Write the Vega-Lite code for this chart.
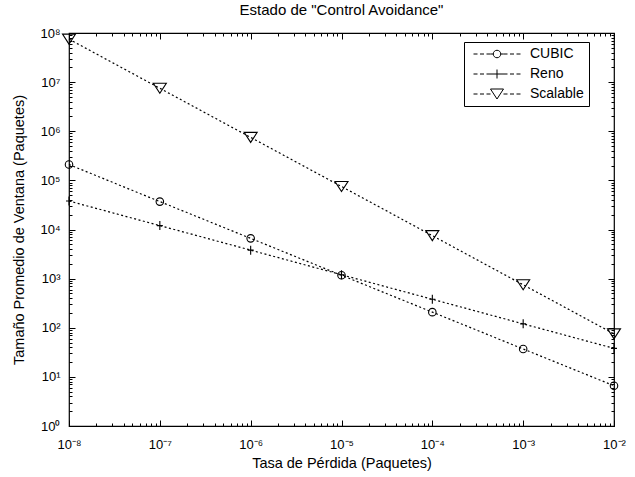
{
  "$schema": "https://vega.github.io/schema/vega-lite/v6.json",
  "width": 545,
  "height": 393,
  "autosize": "none",
  "padding": {"left": 69, "top": 33, "right": 21, "bottom": 51},
  "background": "white",
  "title": {
    "text": "Estado de \"Control Avoidance\"",
    "font": "Liberation Sans",
    "fontSize": 15,
    "fontWeight": "normal",
    "color": "black",
    "anchor": "middle",
    "offset": 9
  },
  "config": {
    "view": {"stroke": "black", "strokeWidth": 1.2},
    "axis": {
      "grid": false,
      "domain": false,
      "tickColor": "black",
      "tickWidth": 1,
      "labelColor": "black",
      "labelFont": "Liberation Sans",
      "labelFontSize": 13,
      "labelOverlap": false,
      "labelFlush": false,
      "labelBound": false,
      "titleColor": "black",
      "titleFont": "Liberation Sans",
      "titleFontSize": 14.5,
      "titleFontWeight": "normal"
    }
  },
  "data": {
    "values": [
      {"p": 1e-8, "w": 210000, "serie": "CUBIC"},
      {"p": 1e-7, "w": 37000, "serie": "CUBIC"},
      {"p": 1e-6, "w": 6600, "serie": "CUBIC"},
      {"p": 1e-5, "w": 1170, "serie": "CUBIC"},
      {"p": 1e-4, "w": 208, "serie": "CUBIC"},
      {"p": 1e-3, "w": 37, "serie": "CUBIC"},
      {"p": 1e-2, "w": 6.6, "serie": "CUBIC"},
      {"p": 1e-8, "w": 38000, "serie": "Reno"},
      {"p": 1e-7, "w": 12000, "serie": "Reno"},
      {"p": 1e-6, "w": 3800, "serie": "Reno"},
      {"p": 1e-5, "w": 1200, "serie": "Reno"},
      {"p": 1e-4, "w": 380, "serie": "Reno"},
      {"p": 1e-3, "w": 120, "serie": "Reno"},
      {"p": 1e-2, "w": 38, "serie": "Reno"},
      {"p": 1e-8, "w": 75000000, "serie": "Scalable"},
      {"p": 1e-7, "w": 7500000, "serie": "Scalable"},
      {"p": 1e-6, "w": 750000, "serie": "Scalable"},
      {"p": 1e-5, "w": 75000, "serie": "Scalable"},
      {"p": 1e-4, "w": 7500, "serie": "Scalable"},
      {"p": 1e-3, "w": 750, "serie": "Scalable"},
      {"p": 1e-2, "w": 75, "serie": "Scalable"}
    ]
  },
  "layer": [
    {
      "mark": {"type": "line", "color": "black", "strokeWidth": 1.2, "strokeDash": [2, 2.5]},
      "encoding": {
        "x": {
          "field": "p", "type": "quantitative",
          "scale": {"type": "log", "domain": [1e-8, 1e-2], "nice": false},
          "axis": {
            "orient": "bottom",
            "title": "Tasa de Pérdida (Paquetes)",
            "titlePadding": 2,
            "values": [1e-8,2e-8,3e-8,4e-8,5e-8,6e-8,7e-8,8e-8,9e-8,1e-7,2e-7,3e-7,4e-7,5e-7,6e-7,7e-7,8e-7,9e-7,1e-6,2e-6,3e-6,4e-6,5e-6,6e-6,7e-6,8e-6,9e-6,1e-5,2e-5,3e-5,4e-5,5e-5,6e-5,7e-5,8e-5,9e-5,1e-4,2e-4,3e-4,4e-4,5e-4,6e-4,7e-4,8e-4,9e-4,1e-3,2e-3,3e-3,4e-3,5e-3,6e-3,7e-3,8e-3,9e-3,1e-2],
            "tickSize": {"condition": {"test": "abs(log(datum.value)/LN10 - round(log(datum.value)/LN10)) < 0.001", "value": -6}, "value": -3},
            "labelPadding": 18,
            "labelExpr": "abs(log(datum.value)/LN10 - round(log(datum.value)/LN10)) < 0.001 ? '10' + (round(log(datum.value)/LN10) < 0 ? '⁻' : '') + substring('⁰¹²³⁴⁵⁶⁷⁸⁹', abs(round(log(datum.value)/LN10)), abs(round(log(datum.value)/LN10)) + 1) : ''"
          }
        },
        "y": {
          "field": "w", "type": "quantitative",
          "scale": {"type": "log", "domain": [1, 1e8], "nice": false},
          "axis": {
            "orient": "left",
            "title": "Tamaño Promedio de Ventana (Paquetes)",
            "titlePadding": 13,
            "values": [1,2,3,4,5,6,7,8,9,10,20,30,40,50,60,70,80,90,100,200,300,400,500,600,700,800,900,1000,2000,3000,4000,5000,6000,7000,8000,9000,1e4,2e4,3e4,4e4,5e4,6e4,7e4,8e4,9e4,1e5,2e5,3e5,4e5,5e5,6e5,7e5,8e5,9e5,1e6,2e6,3e6,4e6,5e6,6e6,7e6,8e6,9e6,1e7,2e7,3e7,4e7,5e7,6e7,7e7,8e7,9e7,1e8],
            "tickSize": {"condition": {"test": "abs(log(datum.value)/LN10 - round(log(datum.value)/LN10)) < 0.001", "value": -6}, "value": -3},
            "labelPadding": 15,
            "labelExpr": "abs(log(datum.value)/LN10 - round(log(datum.value)/LN10)) < 0.001 ? '10' + (round(log(datum.value)/LN10) < 0 ? '⁻' : '') + substring('⁰¹²³⁴⁵⁶⁷⁸⁹', abs(round(log(datum.value)/LN10)), abs(round(log(datum.value)/LN10)) + 1) : ''"
          }
        },
        "detail": {"field": "serie", "type": "nominal"}
      }
    },
    {
      "mark": {"type": "point", "filled": false, "stroke": "black", "strokeWidth": 1.1, "size": 100, "opacity": 1},
      "encoding": {
        "x": {"field": "p", "type": "quantitative", "scale": {"type": "log", "domain": [1e-8, 1e-2], "nice": false}, "axis": null},
        "y": {"field": "w", "type": "quantitative", "scale": {"type": "log", "domain": [1, 1e8], "nice": false}, "axis": null},
        "shape": {
          "field": "serie", "type": "nominal",
          "scale": {
            "domain": ["CUBIC", "Reno", "Scalable"],
            "range": [
              "M-0.75,0A0.75,0.75 0 1,0 0.75,0A0.75,0.75 0 1,0 -0.75,0",
              "M-0.6,0H0.6M0,-0.9V0.9",
              "M-1.3,-1L1.3,-1L0,1Z"
            ]
          },
          "legend": null
        }
      }
    },
    {
      "transform": [{"filter": "false"}],
      "mark": {"type": "point", "filled": false, "stroke": "black", "strokeWidth": 1, "size": 100},
      "encoding": {
        "x": {
          "field": "p", "type": "quantitative",
          "scale": {"type": "log", "domain": [1e-8, 1e-2], "nice": false},
          "axis": {
            "orient": "top", "title": null, "labels": false,
            "values": [1e-8,2e-8,3e-8,4e-8,5e-8,6e-8,7e-8,8e-8,9e-8,1e-7,2e-7,3e-7,4e-7,5e-7,6e-7,7e-7,8e-7,9e-7,1e-6,2e-6,3e-6,4e-6,5e-6,6e-6,7e-6,8e-6,9e-6,1e-5,2e-5,3e-5,4e-5,5e-5,6e-5,7e-5,8e-5,9e-5,1e-4,2e-4,3e-4,4e-4,5e-4,6e-4,7e-4,8e-4,9e-4,1e-3,2e-3,3e-3,4e-3,5e-3,6e-3,7e-3,8e-3,9e-3,1e-2],
            "tickSize": {"condition": {"test": "abs(log(datum.value)/LN10 - round(log(datum.value)/LN10)) < 0.001", "value": -6}, "value": -3}
          }
        },
        "y": {
          "field": "w", "type": "quantitative",
          "scale": {"type": "log", "domain": [1, 1e8], "nice": false},
          "axis": {
            "orient": "right", "title": null, "labels": false,
            "values": [1,2,3,4,5,6,7,8,9,10,20,30,40,50,60,70,80,90,100,200,300,400,500,600,700,800,900,1000,2000,3000,4000,5000,6000,7000,8000,9000,1e4,2e4,3e4,4e4,5e4,6e4,7e4,8e4,9e4,1e5,2e5,3e5,4e5,5e5,6e5,7e5,8e5,9e5,1e6,2e6,3e6,4e6,5e6,6e6,7e6,8e6,9e6,1e7,2e7,3e7,4e7,5e7,6e7,7e7,8e7,9e7,1e8],
            "tickSize": {"condition": {"test": "abs(log(datum.value)/LN10 - round(log(datum.value)/LN10)) < 0.001", "value": -6}, "value": -3}
          }
        },
        "shape": {
          "field": "serie", "type": "nominal",
          "scale": {
            "domain": ["CUBIC", "Reno", "Scalable"],
            "range": [
              "M-4.7,0H-3.9M-3.4,0H-2.6M-2.1,0H-1.3M-1.3,0H-0.75M0.75,0H1.3M1.3,0H2.1M2.6,0H3.4M3.9,0H4.7M-0.75,0A0.75,0.75 0 1,0 0.75,0A0.75,0.75 0 1,0 -0.75,0",
              "M-4.7,0H-3.9M-3.4,0H-2.6M-2.1,0H2.1M2.6,0H3.4M3.9,0H4.7M0,-0.9V0.9",
              "M-4.7,0H-3.9M-3.4,0H-2.6M-2.1,0H-1.3M1.3,0H2.1M2.6,0H3.4M3.9,0H4.7M-1.3,-1L1.3,-1L0,1Z"
            ]
          },
          "legend": {
            "title": null,
            "orient": "none",
            "legendX": 395,
            "legendY": 9,
            "strokeColor": "black",
            "fillColor": "white",
            "padding": 5,
            "symbolOffset": 21,
            "labelOffset": 26,
            "rowPadding": 6,
            "symbolSize": 100,
            "symbolStrokeColor": "black",
            "symbolFillColor": "transparent",
            "symbolStrokeWidth": 1,
            "symbolOpacity": 1,
            "labelFont": "Liberation Sans",
            "labelFontSize": 14,
            "labelColor": "black"
          }
        }
      }
    }
  ],
  "resolve": {
    "scale": {"shape": "independent"},
    "axis": {"x": "independent", "y": "independent"},
    "legend": {"shape": "independent"}
  }
}
